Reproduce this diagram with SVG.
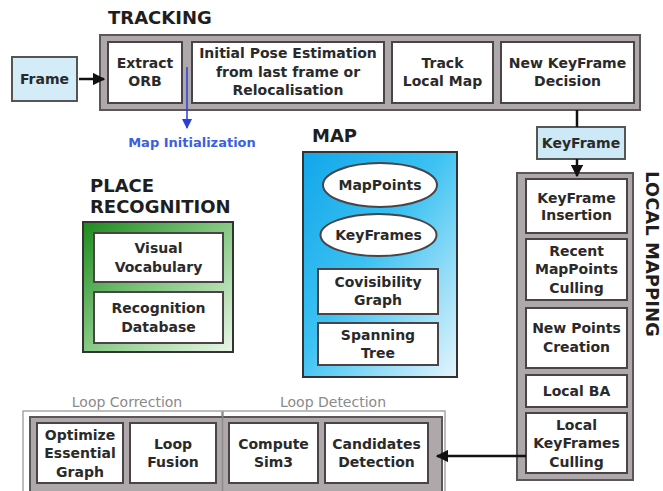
<svg xmlns="http://www.w3.org/2000/svg" width="663" height="491" viewBox="0 0 663 491">
<defs>
<linearGradient id="gMap" x1="0" y1="0" x2="1" y2="1">
<stop offset="0" stop-color="#12a6ea"/>
<stop offset="0.45" stop-color="#3cc2f2"/>
<stop offset="1" stop-color="#e4f5fc"/>
</linearGradient>
<linearGradient id="gPlace" x1="0" y1="0" x2="1" y2="1">
<stop offset="0" stop-color="#1c8a1c"/>
<stop offset="0.45" stop-color="#7cc47a"/>
<stop offset="1" stop-color="#eaf6e8"/>
</linearGradient>
<marker id="ah" viewBox="0 0 10 10" refX="9" refY="5" markerWidth="5" markerHeight="5" orient="auto" markerUnits="strokeWidth">
<path d="M0,0 L10,5 L0,10 z" fill="#111"/>
</marker>
<marker id="ahb" viewBox="0 0 10 10" refX="9" refY="5" markerWidth="7" markerHeight="7" orient="auto" markerUnits="strokeWidth">
<path d="M0,0 L10,5 L0,10 z" fill="#2a3de0"/>
</marker>
<style>
text{font-family:"DejaVu Sans","Liberation Sans",sans-serif;fill:#2a2a2a}
.t{font-size:14px;font-weight:bold;text-anchor:middle}
.h{font-size:18px;font-weight:bold;fill:#1e1e1e}
.cont{fill:#aea8ab;stroke:#5c5559;stroke-width:2}
.box{fill:#ffffff;stroke:#4a4347;stroke-width:2}
.lite{fill:#ffffff;stroke:#a6a6a6;stroke-width:1.5}
.lbl{font-size:14px;fill:#8a8a8a;text-anchor:middle}
.conn{stroke:#111;stroke-width:2.5;fill:none}
</style>
</defs>

<text class="h" x="108" y="24">TRACKING</text>
<text class="h" x="312" y="142">MAP</text>
<text class="h" x="90" y="192">PLACE</text>
<text class="h" x="90" y="213">RECOGNITION</text>
<text class="h" transform="translate(646,171) rotate(90)">LOCAL MAPPING</text>
<text class="lbl" x="127" y="407">Loop Correction</text>
<text class="lbl" x="333" y="407">Loop Detection</text>

<g id="frame">
<rect x="12" y="57" width="65" height="44" fill="#d4ecf8" stroke="#555" stroke-width="2"/>
<text class="t" x="44.5" y="84">Frame</text>
</g>

<g id="tracking">
<rect class="cont" x="100" y="35" width="540" height="75"/>
<g id="extract-orb">
<rect class="box" x="108" y="42" width="74" height="61"/>
<text class="t" x="145" y="68">Extract</text>
<text class="t" x="145" y="86">ORB</text>
</g>
<g id="initial-pose">
<rect class="box" x="192" y="42" width="192" height="61"/>
<text class="t" x="288" y="58">Initial Pose Estimation</text>
<text class="t" x="288" y="77">from last frame or</text>
<text class="t" x="288" y="95">Relocalisation</text>
</g>
<g id="track-local-map">
<rect class="box" x="392" y="42" width="101" height="61"/>
<text class="t" x="442.5" y="68">Track</text>
<text class="t" x="442.5" y="86">Local Map</text>
</g>
<g id="new-keyframe-decision">
<rect class="box" x="501" y="42" width="133" height="61"/>
<text class="t" x="567.5" y="68">New KeyFrame</text>
<text class="t" x="567.5" y="86">Decision</text>
</g>
</g>

<g id="keyframe">
<rect x="537" y="127" width="88" height="32" fill="#cde8f6" stroke="#555" stroke-width="2"/>
<text class="t" x="581" y="148">KeyFrame</text>
</g>

<g id="map">
<rect x="303" y="152" width="154" height="225" fill="url(#gMap)" stroke="#333" stroke-width="2"/>
<g id="mappoints">
<ellipse cx="380" cy="185" rx="57" ry="22" class="box"/>
<text class="t" x="380" y="190">MapPoints</text>
</g>
<g id="keyframes">
<ellipse cx="378.5" cy="235" rx="58" ry="21" class="box"/>
<text class="t" x="378.5" y="240">KeyFrames</text>
</g>
<g id="covisibility">
<rect class="box" x="318" y="269" width="120" height="45"/>
<text class="t" x="378" y="287">Covisibility</text>
<text class="t" x="378" y="305">Graph</text>
</g>
<g id="spanning-tree">
<rect class="box" x="318" y="323" width="120" height="42"/>
<text class="t" x="378" y="340">Spanning</text>
<text class="t" x="378" y="358">Tree</text>
</g>
</g>

<g id="place-recognition">
<rect x="83" y="222" width="150" height="130" fill="url(#gPlace)" stroke="#333" stroke-width="2"/>
<g id="visual-vocabulary">
<rect class="box" x="94" y="233" width="129" height="49"/>
<text class="t" x="158.5" y="253">Visual</text>
<text class="t" x="158.5" y="272">Vocabulary</text>
</g>
<g id="recognition-database">
<rect class="box" x="94" y="292" width="129" height="51"/>
<text class="t" x="158.5" y="313">Recognition</text>
<text class="t" x="158.5" y="332">Database</text>
</g>
</g>

<g id="local-mapping">
<rect class="cont" x="517" y="173" width="116" height="307"/>
<g id="keyframe-insertion">
<rect class="box" x="526" y="179" width="101" height="54"/>
<text class="t" x="576.5" y="203">KeyFrame</text>
<text class="t" x="576.5" y="220">Insertion</text>
</g>
<g id="recent-mappoints-culling">
<rect class="box" x="526" y="239" width="101" height="61"/>
<text class="t" x="576.5" y="256">Recent</text>
<text class="t" x="576.5" y="274">MapPoints</text>
<text class="t" x="576.5" y="293">Culling</text>
</g>
<g id="new-points-creation">
<rect class="box" x="526" y="308" width="101" height="60"/>
<text class="t" x="576.5" y="333">New Points</text>
<text class="t" x="576.5" y="352">Creation</text>
</g>
<g id="local-ba">
<rect class="box" x="526" y="375" width="101" height="32"/>
<text class="t" x="576.5" y="396">Local BA</text>
</g>
<g id="local-keyframes-culling">
<rect class="box" x="526" y="413" width="101" height="60"/>
<text class="t" x="576.5" y="430">Local</text>
<text class="t" x="576.5" y="448">KeyFrames</text>
<text class="t" x="576.5" y="467">Culling</text>
</g>
</g>

<g id="loop-closing">
<rect class="lite" x="23" y="411" width="199" height="90"/>
<rect class="lite" x="223" y="411" width="222" height="90"/>
<rect class="cont" x="30" y="417" width="412" height="84"/>
<line x1="222.5" y1="412" x2="222.5" y2="491" stroke="#8e8a8c" stroke-width="1.5"/>
<g id="optimize-essential-graph">
<rect class="box" x="37" y="423" width="86" height="60"/>
<text class="t" x="80" y="440">Optimize</text>
<text class="t" x="80" y="458">Essential</text>
<text class="t" x="80" y="477">Graph</text>
</g>
<g id="loop-fusion">
<rect class="box" x="130" y="423" width="86" height="60"/>
<text class="t" x="173" y="449">Loop</text>
<text class="t" x="173" y="467">Fusion</text>
</g>
<g id="compute-sim3">
<rect class="box" x="229" y="423" width="89" height="60"/>
<text class="t" x="273.5" y="449">Compute</text>
<text class="t" x="273.5" y="467">Sim3</text>
</g>
<g id="candidates-detection">
<rect class="box" x="325" y="423" width="103" height="60"/>
<text class="t" x="376.5" y="449">Candidates</text>
<text class="t" x="376.5" y="467">Detection</text>
</g>
</g>

<g id="connectors">
<line class="conn" x1="79" y1="79" x2="104" y2="79" marker-end="url(#ah)"/>
<line class="conn" x1="577" y1="110" x2="577" y2="127"/>
<line class="conn" x1="577" y1="159" x2="577" y2="176" marker-end="url(#ah)"/>
<line class="conn" x1="526" y1="456" x2="437" y2="456" marker-end="url(#ah)"/>
<line x1="187" y1="67" x2="187" y2="128" stroke="#2a3de0" stroke-width="1.5" marker-end="url(#ahb)"/>
<text x="192" y="147" style="font-size:13px;font-weight:bold;fill:#3b5fe0;text-anchor:middle">Map Initialization</text>
</g>
</svg>
